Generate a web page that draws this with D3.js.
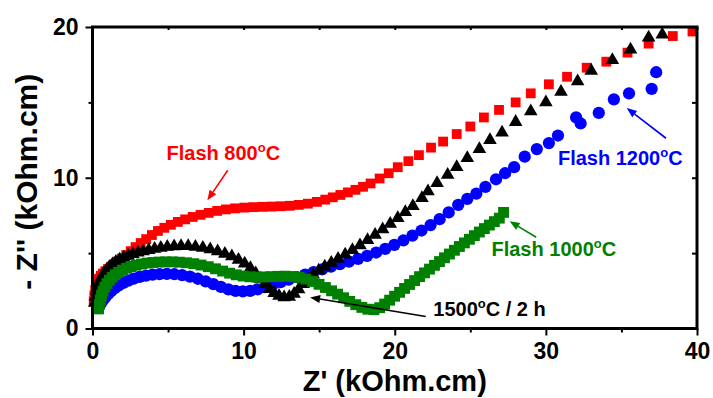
<!DOCTYPE html>
<html>
<head>
<meta charset="utf-8">
<script src="https://cdn.jsdelivr.net/npm/d3@7/dist/d3.min.js"></script>
<style>
  html, body { margin: 0; padding: 0; background: #fff; }
  svg { display: block; font-family: "Liberation Sans", Arial, sans-serif; font-weight: bold; }
</style>
</head>
<body>
<svg id="chart" width="713" height="398"></svg>
<script>
// Nyquist impedance spectra: Z' (real) vs -Z'' (imaginary), kOhm.cm
const flash800 = [
  [0.08,1.8],[0.12,2.2],[0.18,2.55],[0.25,2.85],[0.33,3.1],[0.43,3.3],[0.55,3.5],[0.69,3.65],
  [0.85,3.8],[1.03,3.95],[1.23,4.1],[1.45,4.27],[1.69,4.45],[1.95,4.65],[2.23,4.87],[2.53,5.13],
  [2.85,5.4],[3.19,5.67],[3.55,5.93],[3.93,6.2],[4.33,6.47],[4.75,6.68],[5.19,6.88],[5.65,7.07],
  [6.13,7.24],[6.63,7.4],[7.15,7.54],[7.69,7.67],[8.25,7.8],[8.83,7.9],[9.43,7.97],[10.05,8.02],
  [10.65,8.05],[11.25,8.07],[11.85,8.09],[12.45,8.11],[13.05,8.14],[13.65,8.2],[14.25,8.28],
  [14.85,8.4],[15.4,8.55],[15.9,8.7],[16.4,8.86],[16.9,9.03],[17.4,9.2],[17.9,9.4],[18.4,9.62],
  [19.0,9.95],[19.6,10.3],[20.2,10.7],[20.9,11.1],[21.6,11.5],[22.4,12.0],[23.2,12.4],[24.1,12.9],
  [25.0,13.4],[25.9,14.0],[26.9,14.5],[28.0,15.0],[29.0,15.6],[30.2,16.2],[31.4,16.7],[32.7,17.3],
  [34.0,17.7],[35.4,18.3],[36.8,18.9],[38.4,19.4],[39.7,19.7]
];

const flash1200 = [
  [0.38,1.35],[0.45,1.5],[0.55,1.68],[0.68,1.87],[0.84,2.07],[1.02,2.27],[1.23,2.47],[1.47,2.67],
  [1.74,2.86],[2.04,3.03],[2.37,3.18],[2.73,3.31],[3.12,3.42],[3.54,3.51],[3.98,3.57],[4.44,3.61],
  [4.92,3.62],[5.42,3.6],[5.93,3.54],[6.45,3.44],[6.97,3.3],[7.49,3.13],[8.0,2.94],[8.5,2.76],
  [8.99,2.6],[9.47,2.5],[9.95,2.46],[10.43,2.5],[10.92,2.6],[11.42,2.74],[11.93,2.9],[12.45,3.07],
  [12.98,3.24],[13.52,3.41],[14.07,3.57],[14.63,3.74],[15.2,3.93],[15.78,4.1],[16.37,4.27],
  [16.97,4.44],[17.57,4.62],[18.17,4.82],[18.77,5.04],[19.37,5.28],[19.97,5.55],[20.57,5.84],
  [21.17,6.16],[21.77,6.5],[22.37,6.86],[22.97,7.25],[23.57,7.7],[24.2,8.2],[24.8,8.6],
  [25.4,8.95],[26.0,9.4],[26.7,9.9],[27.3,10.3],[27.9,10.7],[28.6,11.4],[29.4,11.9],[30.2,12.3],
  [30.8,12.8],[32.0,14.0],[32.3,13.6],[33.5,14.3],[34.5,15.2],[35.5,15.6],[37.0,15.9],[37.3,17.0]
];

const conv1500 = [
  [0.15,1.7],[0.2,2.1],[0.27,2.5],[0.36,2.85],[0.47,3.15],[0.6,3.42],[0.75,3.66],[0.92,3.88],
  [1.11,4.08],[1.32,4.26],[1.55,4.42],[1.8,4.57],[2.07,4.7],[2.36,4.82],[2.67,4.93],[3.0,5.03],
  [3.35,5.12],[3.72,5.2],[4.11,5.28],[4.52,5.35],[4.95,5.41],[5.4,5.45],[5.86,5.47],[6.33,5.46],
  [6.81,5.42],[7.3,5.35],[7.79,5.25],[8.28,5.12],[8.76,4.96],[9.22,4.78],[9.66,4.56],[10.07,4.3],
  [10.45,4.0],[10.8,3.66],[11.12,3.3],[11.42,2.95],[11.72,2.62],[12.02,2.35],[12.34,2.16],
  [12.68,2.06],[13.02,2.1],[13.34,2.3],[13.64,2.6],[13.94,2.94],[14.26,3.27],[14.6,3.57],
  [14.97,3.84],[15.37,4.1],[15.8,4.36],[16.25,4.62],[16.72,4.9],[17.2,5.2],[17.7,5.52],[18.2,5.87],
  [18.7,6.22],[19.2,6.58],[19.7,6.95],[20.2,7.33],[20.7,7.72],[21.2,8.12],[21.8,8.65],[22.2,9.1],
  [22.8,9.65],[23.5,10.2],[24.1,10.7],[24.8,11.3],[25.6,11.9],[26.3,12.5],[27.1,13.0],[28.0,13.7],
  [29.0,14.4],[30.0,15.0],[31.0,15.7],[32.1,16.4],[33.0,17.1],[34.4,17.8],[35.6,18.5],[36.8,19.3],
  [37.7,19.5]
];

const flash1000 = [
  [0.4,1.3],[0.45,1.6],[0.52,1.9],[0.6,2.2],[0.7,2.48],[0.82,2.74],[0.96,2.98],[1.12,3.2],
  [1.3,3.4],[1.5,3.57],[1.73,3.73],[1.98,3.87],[2.26,4.0],[2.56,4.11],[2.89,4.2],[3.24,4.28],
  [3.61,4.34],[4.0,4.38],[4.41,4.41],[4.84,4.42],[5.29,4.42],[5.75,4.4],[6.22,4.36],[6.7,4.3],
  [7.18,4.21],[7.66,4.1],[8.14,3.96],[8.61,3.81],[9.07,3.67],[9.52,3.56],[9.97,3.48],[10.42,3.43],
  [10.87,3.41],[11.33,3.42],[11.8,3.44],[12.27,3.46],[12.74,3.47],[13.21,3.45],[13.67,3.39],
  [14.12,3.28],[14.56,3.12],[14.99,2.93],[15.41,2.72],[15.82,2.5],[16.22,2.28],[16.62,2.04],
  [17.02,1.8],[17.42,1.58],[17.82,1.4],[18.22,1.28],[18.62,1.25],[19.0,1.38],[19.33,1.62],
  [19.66,1.88],[19.99,2.14],[20.32,2.4],[20.65,2.66],[20.98,2.92],[21.31,3.18],[21.64,3.44],
  [21.97,3.69],[22.3,3.94],[22.63,4.19],[22.96,4.44],[23.29,4.69],[23.62,4.94],[23.95,5.19],
  [24.28,5.44],[24.61,5.68],[24.94,5.92],[25.27,6.16],[25.6,6.4],[25.93,6.63],[26.26,6.86],
  [26.59,7.09],[26.92,7.32],[27.2,7.7]
];

const xMajorTicks = [0, 10, 20, 30, 40];
const xMinorTicks = [5, 15, 25, 35];
const yMajorTicks = [0, 10, 20];
const yMinorTicks = [5, 15];

// label text, anchor point and arrow (tail -> head), all in data units
const annotations = [
  { text: "Flash 800", color: "#ff0000", at: [4.9, 11.15], from: [8.95, 10.5], to: [7.6, 8.5] },
  { text: "Flash 1200", color: "#0000ff", at: [30.8, 10.83], from: [37.95, 12.62], to: [35.35, 14.62] },
  { text: "Flash 1000", color: "#008000", at: [26.4, 4.78], from: [29.36, 6.05], to: [27.6, 7.12] },
  { text: "1500", suffix: " / 2 h", color: "#000000", at: [22.55, 0.86], from: [22.05, 0.8], to: [14.4, 2.06] }
];

const svg = d3.select("#chart");
const x = d3.scaleLinear().domain([0, 40]).range([92.5, 697]);
const y = d3.scaleLinear().domain([0, 20]).range([328.5, 27]);

// series, drawn bottom to top
const series = [
  { data: flash800, color: "#ff0000", symbol: d3.symbolSquare, size: 96 },
  { data: flash1200, color: "#0000ff", symbol: d3.symbolCircle, size: 118 },
  { data: conv1500, color: "#000000", symbol: d3.symbolTriangle, size: 80 },
  { data: flash1000, color: "#008000", symbol: d3.symbolSquare, size: 118 }
];

const plot = svg.append("g");
series.forEach(s => {
  const sym = d3.symbol().type(s.symbol).size(s.size);
  plot.append("g").selectAll("path")
    .data(s.data)
    .join("path")
    .attr("d", sym)
    .attr("transform", d => `translate(${x(d[0])},${y(d[1])})`)
    .attr("fill", s.color);
});

// axes: outward ticks on left/bottom, inward on top/right
function styleAxis(g) {
  g.select(".domain").remove();
  g.selectAll(".tick line").attr("stroke", "#000").attr("stroke-width", 2);
}
function styleLabels(g) {
  g.selectAll("text").attr("font-size", 23).attr("font-weight", "bold").attr("fill", "#000")
    .attr("font-family", "Liberation Sans, Arial, sans-serif");
}
const axes = svg.append("g");
axes.append("g").attr("transform", `translate(0,${y(0)})`)
  .call(d3.axisBottom(x).tickValues(xMajorTicks).tickSize(7).tickPadding(7).tickFormat(d3.format("d")))
  .call(styleAxis).call(styleLabels);
axes.append("g").attr("transform", `translate(0,${y(0)})`)
  .call(d3.axisBottom(x).tickValues(xMinorTicks).tickSize(4).tickFormat(""))
  .call(styleAxis);
axes.append("g").attr("transform", `translate(${x(0)},0)`)
  .call(d3.axisLeft(y).tickValues(yMajorTicks).tickSize(7).tickPadding(7).tickFormat(d3.format("d")))
  .call(styleAxis).call(styleLabels);
axes.append("g").attr("transform", `translate(${x(0)},0)`)
  .call(d3.axisLeft(y).tickValues(yMinorTicks).tickSize(4).tickFormat(""))
  .call(styleAxis);
axes.append("g").attr("transform", `translate(0,${y(20)})`)
  .call(d3.axisBottom(x).tickValues(xMajorTicks.concat(xMinorTicks)).tickSize(3).tickFormat(""))
  .call(styleAxis);
axes.append("g").attr("transform", `translate(${x(40)},0)`)
  .call(d3.axisLeft(y).tickValues(yMajorTicks.concat(yMinorTicks)).tickSize(5).tickFormat(""))
  .call(styleAxis);

// frame
svg.append("rect")
  .attr("x", x(0)).attr("y", y(20))
  .attr("width", x(40) - x(0)).attr("height", y(0) - y(20))
  .attr("fill", "none").attr("stroke", "#000").attr("stroke-width", 3);

// axis titles
svg.append("text")
  .attr("x", (x(0) + x(40)) / 2).attr("y", 391)
  .attr("text-anchor", "middle").attr("font-size", 29).attr("fill", "#000")
  .text("Z' (kOhm.cm)");
svg.append("text")
  .attr("transform", `translate(37,${(y(0) + y(20)) / 2 + 4}) rotate(-90)`)
  .attr("text-anchor", "middle").attr("font-size", 30).attr("fill", "#000")
  .text("- Z'' (kOhm.cm)");

// annotations with arrows
const ann = svg.append("g");
annotations.forEach(a => {
  const t = ann.append("text")
    .attr("x", x(a.at[0])).attr("y", y(a.at[1]))
    .attr("font-size", 20).attr("fill", a.color);
  t.append("tspan").text(a.text);
  t.append("tspan").attr("font-size", 13).attr("dy", -8).text("o");
  t.append("tspan").attr("dy", 8).text("C" + (a.suffix || ""));

  const x1 = x(a.from[0]), y1 = y(a.from[1]), x2 = x(a.to[0]), y2 = y(a.to[1]);
  const ang = Math.atan2(y2 - y1, x2 - x1);
  const hl = 10, hw = 4;
  const bx = x2 - hl * Math.cos(ang), by = y2 - hl * Math.sin(ang);
  ann.append("line")
    .attr("x1", x1).attr("y1", y1).attr("x2", bx).attr("y2", by)
    .attr("stroke", a.color).attr("stroke-width", 1.6);
  ann.append("path")
    .attr("d", `M${x2},${y2}L${bx + hw * Math.sin(ang)},${by - hw * Math.cos(ang)}L${bx - hw * Math.sin(ang)},${by + hw * Math.cos(ang)}Z`)
    .attr("fill", a.color);
});
</script>
</body>
</html>
